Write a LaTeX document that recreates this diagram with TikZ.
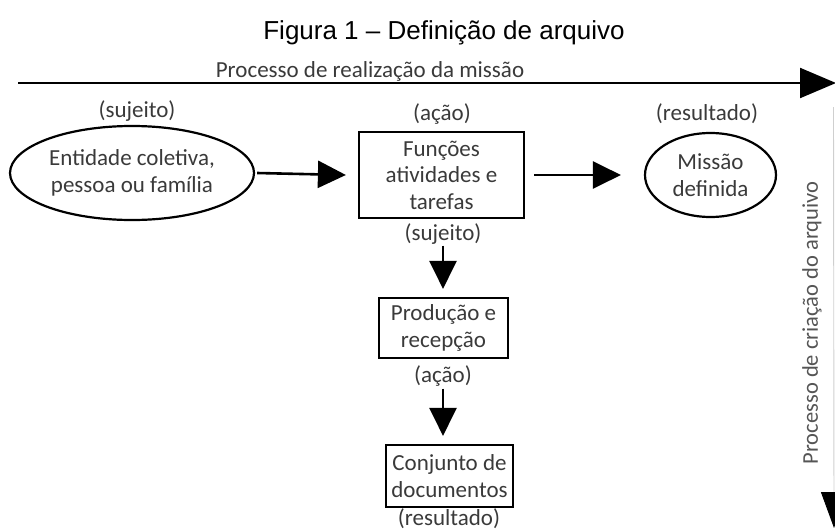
\documentclass[tikz,border=0pt]{standalone}
\usepackage{fontspec}
\setmainfont{Carlito}
\newfontfamily\titlefont{Liberation Sans}
\usetikzlibrary{arrows.meta,shapes.geometric}
\definecolor{txt}{HTML}{3A3A3A}
\definecolor{vtxt}{HTML}{555555}
\definecolor{vline}{HTML}{CFCFCF}
\begin{document}
\begin{tikzpicture}[x=1pt,y=-1pt,
  lbl/.style={text=txt,font=\fontsize{23}{26.5}\selectfont,inner sep=0pt,align=center},
  boxst/.style={lbl,draw=black,line width=2.2pt,rectangle},
  ellst/.style={lbl,draw=black,line width=2.2pt,ellipse},
  arr/.style={line width=2.6pt,-{Triangle[length=28pt,width=27pt]}},
  bigarr/.style={line width=2.2pt,-{Triangle[length=36pt,width=30pt]}}]
\useasboundingbox (0,0) rectangle (835,530);
\clip (0,0) rectangle (835,530);
% title
\node[inner sep=0pt,font=\titlefont\fontsize{26}{30}\selectfont] (title) at (444,33) {Figura 1 – Definição de arquivo};
% top process arrow
\node[lbl] (topl) at (370,71) {Processo de realização da missão};
\coordinate (hs) at (18,83);
\coordinate (he) at (836,83);
\draw[bigarr] (hs) -- (he);
% row
\node[lbl] (suj1) at (137,111) {(sujeito)};
\node[ellst,minimum width=244pt,minimum height=94pt] (ent) at (132,173) {Entidade coletiva,\\pessoa ou família};
\node[lbl] (acao1) at (442,114) {(ação)};
\node[boxst,minimum width=165pt,minimum height=86pt] (fun) at (441.5,175) {Funções\\atividades e\\tarefas};
\node[lbl] (suj2) at (443,234) {(sujeito)};
\node[lbl] (res1) at (707,114) {(resultado)};
\node[ellst,minimum width=131pt,minimum height=84pt] (mis) at (710.5,175) {Missão\\definida};
\draw[arr] ([xshift=2pt]ent.east) -- ([xshift=-12pt]fun.west);
\draw[arr] ([xshift=9pt]fun.east) -- ([xshift=-23pt]mis.west);
% column
\node[boxst,minimum width=129pt,minimum height=60pt] (prod) at (443.5,328) {Produção e\\recepção};
\node[lbl] (acao2) at (443,376) {(ação)};
\node[boxst,minimum width=127pt,minimum height=62pt] (conj) at (449.5,476) {Conjunto de\\documentos};
\node[lbl] (res2) at (449,518.5) {(resultado)};
\draw[arr] ([yshift=-1pt]suj2.south) -- ([yshift=8pt]suj2.south |- prod.north);
\draw[arr] ([yshift=-2pt]acao2.south) -- ([yshift=8pt]acao2.south |- conj.north);
% right vertical process
\node[inner sep=0pt,text=vtxt,font=\fontsize{22.5}{26}\selectfont,rotate=90] (rightl) at (812,323) {Processo de criação do arquivo};
\coordinate (vs) at (833.5,107);
\coordinate (ve) at (834,528);
\draw[vline,line width=0.9pt,-{Triangle[length=36pt,width=26pt,color=black]}] (vs) -- (ve);
\end{tikzpicture}
\end{document}
